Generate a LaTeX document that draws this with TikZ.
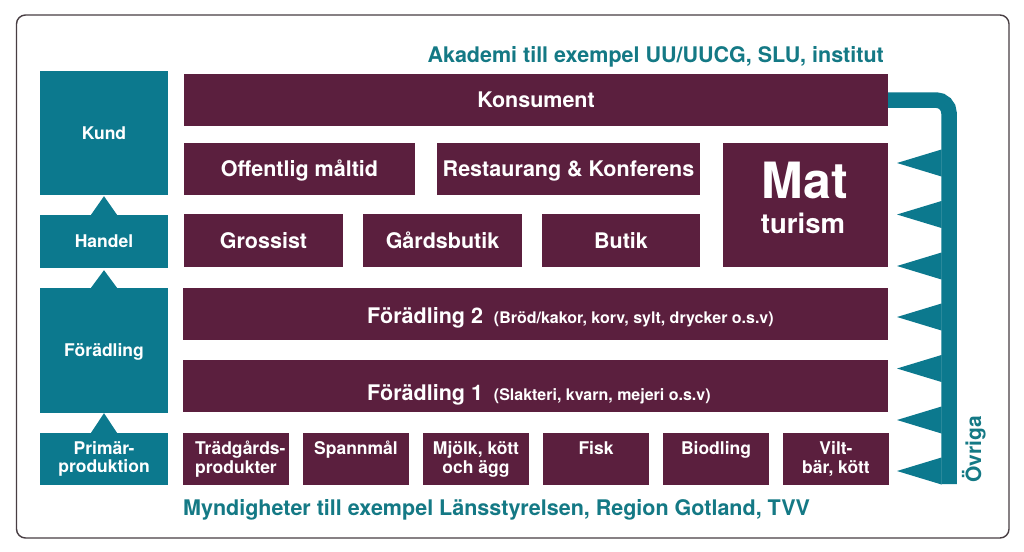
\documentclass[tikz,border=0pt]{standalone}
\usepackage{fontspec}
\setmainfont{TeX Gyre Heros}
\definecolor{tealc}{RGB}{12,121,142}
\definecolor{tealt}{RGB}{20,121,133}
\definecolor{plum}{RGB}{91,31,62}
\definecolor{framec}{RGB}{72,62,67}
\begin{document}
\begin{tikzpicture}[x=1pt,y=-1pt,
  pbox/.style={fill=plum, inner sep=0pt, text=white,
    font=\bfseries\fontsize{21.5}{24}\selectfont, text height=15.4pt, text depth=0pt},
  tbox/.style={fill=tealc, inner sep=0pt, text=white, minimum width=128pt,
    font=\bfseries\fontsize{17.5}{18.5}\selectfont, align=center},
  sbox/.style={fill=plum, inner sep=0pt, minimum width=106pt, minimum height=52pt},
  slabel/.style={inner sep=0pt, text=white, anchor=north,
    font=\bfseries\fontsize{17.5}{19}\selectfont, align=center},
  flabel/.style={inner sep=0pt, text=white, anchor=base west,
    font=\bfseries\fontsize{21.5}{24}\selectfont},
  headtext/.style={inner sep=0pt, text=tealt, font=\bfseries\fontsize{21.5}{24}\selectfont},
  tri/.style={fill=tealc}
]
\useasboundingbox (0,0) rectangle (1024,551);
\fill[white] (0,0) rectangle (1024,551);
\draw[framec, line width=1.4pt, rounded corners=9pt] (16.5,15) rectangle (1009,538);

% header / footer texts
\node[headtext, anchor=base east] (akad) at (884,63) {Akademi till exempel UU/UUCG, SLU, institut};
\node[headtext, anchor=base west] (mynd) at (183,515) {Myndigheter till exempel Länsstyrelsen, Region Gotland, TVV};

% left column
\node[tbox, minimum height=124pt, text height=12.6pt, text depth=0pt] (kund) at (104,133) {Kund};
\node[tbox, minimum height=53pt, text height=12.6pt, text depth=0pt] (handel) at (104,241.5) {Handel};
\node[tbox, minimum height=125pt, text height=12.6pt, text depth=0pt] (fored) at (104,350.5) {Förädling};
\node[tbox, minimum height=52pt] (prim) at (104,459) {Primär-\\produktion};

\fill[tri] ([xshift=-13pt]handel.north) -- ([xshift=13pt]handel.north) -- ([yshift=-1pt]kund.south) -- cycle;
\fill[tri] ([xshift=-13pt]fored.north) -- ([xshift=13pt]fored.north) -- ([yshift=-2pt]handel.south) -- cycle;
\fill[tri] ([xshift=-13pt]prim.north) -- ([xshift=13pt]prim.north) -- (fored.south) -- cycle;

% purple boxes
\node[pbox, minimum width=704pt, minimum height=52pt] (kons) at (536,100) {Konsument};
\node[pbox, minimum width=231pt, minimum height=52pt] (offm) at (299.5,169) {Offentlig måltid};
\node[pbox, minimum width=263pt, minimum height=52pt] (rest) at (568.5,169) {Restaurang \& Konferens};
\node[pbox, minimum width=165pt, minimum height=124pt] (mat) at (805.5,205) {};
\node[inner sep=0pt, text=white, anchor=base, font=\bfseries\fontsize{50}{52}\selectfont] (matt) at (805,198) {Mat};
\node[inner sep=0pt, text=white, anchor=base, font=\bfseries\fontsize{27.5}{30}\selectfont] (tur) at (803,233) {turism};
\node[pbox, minimum width=159pt, minimum height=53pt] (gross) at (263.5,240.5) {Grossist};
\node[pbox, minimum width=159pt, minimum height=53pt] (gard) at (442.5,240.5) {Gårdsbutik};
\node[pbox, minimum width=158pt, minimum height=53pt] (butik) at (621,240.5) {Butik};

\node[pbox, minimum width=705pt, minimum height=52pt] (f2) at (535.5,314) {};
\node[flabel] (f2t) at (367,323) {Förädling 2\hspace{11pt}{\fontsize{16}{18}\selectfont(Bröd/kakor, korv, sylt, drycker o.s.v)}};
\node[pbox, minimum width=705pt, minimum height=52pt] (f1) at (535.5,386) {};
\node[flabel] (f1t) at (367,400) {Förädling 1\hspace{11pt}{\fontsize{16}{18}\selectfont(Slakteri, kvarn, mejeri o.s.v)}};

% bottom row
\node[sbox] (b1) at (236,459) {};
\node[sbox] (b2) at (356,459) {};
\node[sbox] (b3) at (476,459) {};
\node[sbox] (b4) at (596,459) {};
\node[sbox] (b5) at (716,459) {};
\node[sbox] (b6) at (836,459) {};
\node[slabel, anchor=north west, align=left] (l1) at (195,441) {Trädgårds-\\produkter};
\node[slabel] (l2) at (b2.center |- 0,441) {Spannmål};
\node[slabel] (l3) at (b3.center |- 0,441) {Mjölk, kött\\och ägg};
\node[slabel] (l4) at (b4.center |- 0,441) {Fisk};
\node[slabel] (l5) at (b5.center |- 0,441) {Biodling};
\node[slabel] (l6) at (b6.center |- 0,441) {Vilt-\\bär, kött};

% right feedback line
\coordinate (corner) at (949,100);
\coordinate (lineend) at (949,484);
\draw[tealc, line width=15.5pt, rounded corners=13pt] (kons.east |- corner) -- (corner) -- (lineend);
\foreach \yy in {163,214.5,266,317,368.5,420,471}{
  \fill[tri] (897,\yy) -- (941.5,\yy-13.5) -- (941.5,\yy+13.5) -- cycle;
}
\node[inner sep=0pt, rotate=90, anchor=base west, text=tealt, font=\bfseries\fontsize{21}{24}\selectfont] (ovr) at (981,483) {Övriga};
\end{tikzpicture}
\end{document}
